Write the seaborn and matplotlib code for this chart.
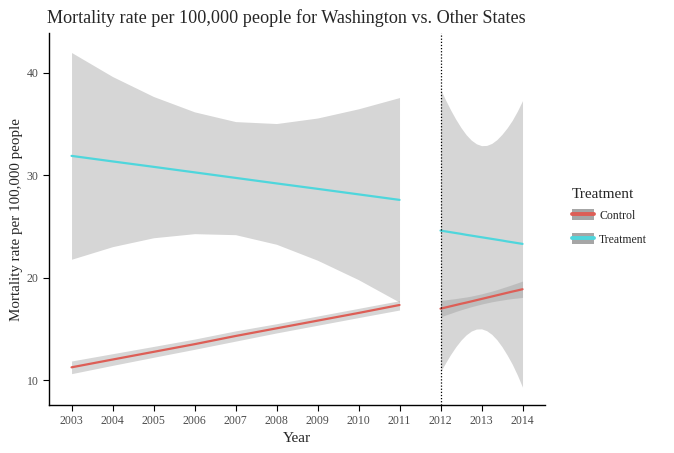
import numpy as np
import pandas as pd
import matplotlib
matplotlib.use("Agg")
import matplotlib.pyplot as plt
import seaborn as sns
from matplotlib.patches import Patch
from matplotlib.lines import Line2D
from matplotlib.legend_handler import HandlerTuple

# pre-policy period (annual)
pre_years = [2003, 2004, 2005, 2006, 2007, 2008, 2009, 2010, 2011]
pre_control = [11.24, 12.0, 12.75, 13.5, 14.3, 15.05, 15.8, 16.55, 17.33]
pre_control_lo = [10.62, 11.43, 12.22, 13.0, 13.8, 14.6, 15.35, 16.1, 16.84]
pre_control_hi = [11.86, 12.57, 13.28, 14.0, 14.8, 15.5, 16.25, 17.0, 17.75]
pre_treat = [31.9, 31.36, 30.83, 30.29, 29.75, 29.21, 28.68, 28.14, 27.6]
pre_treat_lo = [21.8, 23.03, 23.9, 24.3, 24.2, 23.26, 21.7, 19.8, 17.6]
pre_treat_hi = [42.0, 39.65, 37.7, 36.2, 35.25, 35.06, 35.6, 36.5, 37.6]

post_years = [2012, 2012.125, 2012.25, 2012.375, 2012.5, 2012.625, 2012.75, 2012.875,
              2013, 2013.125, 2013.25, 2013.375, 2013.5, 2013.625, 2013.75, 2013.875, 2014]
post_control = [16.97, 17.09, 17.21, 17.33, 17.45, 17.56, 17.68, 17.80,
                17.92, 18.04, 18.16, 18.28, 18.40, 18.52, 18.64, 18.75, 18.87]
post_control_lo = [16.17, 16.35, 16.52, 16.70, 16.86, 17.01, 17.16, 17.29,
                   17.42, 17.53, 17.64, 17.73, 17.81, 17.89, 17.96, 18.01, 18.07]
post_control_hi = [17.77, 17.83, 17.90, 17.96, 18.04, 18.11, 18.20, 18.31,
                   18.42, 18.55, 18.68, 18.83, 18.99, 19.15, 19.32, 19.49, 19.67]
post_treat = [24.6, 24.52, 24.44, 24.36, 24.28, 24.19, 24.11, 24.03,
              23.95, 23.87, 23.79, 23.71, 23.63, 23.54, 23.46, 23.38, 23.3]
post_treat_lo = [10.8, 11.69, 12.52, 13.26, 13.9, 14.41, 14.78, 14.98,
                 15.0, 14.82, 14.46, 13.93, 13.25, 12.44, 11.54, 10.48, 9.3]
post_treat_hi = [38.4, 37.35, 36.36, 35.46, 34.66, 33.97, 33.44, 33.08,
                 32.9, 32.92, 33.12, 33.49, 34.01, 34.64, 35.38, 36.28, 37.3]

policy_year = 2012
groups = ["Control", "Treatment"]
colors = {"Control": "#dd5e56", "Treatment": "#4fd6dc"}


def make_df(years, control, c_lo, c_hi, treat, t_lo, t_hi):
    a = pd.DataFrame({"Year": years, "Rate": control, "lo": c_lo, "hi": c_hi, "Treatment": "Control"})
    b = pd.DataFrame({"Year": years, "Rate": treat, "lo": t_lo, "hi": t_hi, "Treatment": "Treatment"})
    return pd.concat([a, b], ignore_index=True)


pre_df = make_df(pre_years, pre_control, pre_control_lo, pre_control_hi,
                 pre_treat, pre_treat_lo, pre_treat_hi)
post_df = make_df(post_years, post_control, post_control_lo, post_control_hi,
                  post_treat, post_treat_lo, post_treat_hi)

sns.set_style("ticks")
plt.rcParams["font.family"] = ["Liberation Serif", "DejaVu Serif"]

fig = plt.figure(figsize=(6.74, 4.53), dpi=100)
ax = fig.add_axes([0.0727, 0.106, 0.736, 0.821])

for df in [pre_df, post_df]:
    for g in groups:
        d = df[df["Treatment"] == g]
        ax.fill_between(d["Year"], d["lo"], d["hi"], color="#999999", alpha=0.4, lw=0)
    sns.lineplot(data=df, x="Year", y="Rate", hue="Treatment", palette=colors,
                 linewidth=1.6, legend=False, ax=ax)

ax.axvline(policy_year, color="black", linestyle=(0, (1, 1.5)), linewidth=0.9)

ax.set_xlim(2002.45, 2014.55)
ax.set_ylim(7.56, 43.9)
ax.set_xticks(range(2003, 2015))
ax.set_yticks([10, 20, 30, 40])
ax.tick_params(axis="both", labelsize=8.5, labelcolor="#4d4d4d", color="black",
               length=4, width=0.8, direction="out")
for s in ["top", "right"]:
    ax.spines[s].set_visible(False)
for s in ["left", "bottom"]:
    ax.spines[s].set_linewidth(1.0)
    ax.spines[s].set_color("black")

ax.set_xlabel("Year", fontsize=11, labelpad=3)
ax.set_ylabel("Mortality rate per 100,000 people", fontsize=10.8, labelpad=2.5)
fig.text(47 / 674, 1 - 18 / 453,
         "Mortality rate per 100,000 people for Washington vs. Other States",
         fontsize=13.1, ha="left", va="center")

handles = [(Patch(facecolor="#a6a6a6", edgecolor="none"),
            Line2D([], [], color=colors[g], linewidth=2.8)) for g in groups]
fig.text(572 / 674, 1 - 195 / 453, "Treatment", fontsize=11, ha="left", va="center")
fig.legend(handles, groups, loc="center left",
           bbox_to_anchor=(572 / 674, 1 - 227.5 / 453), frameon=False, fontsize=8.5,
           handler_map={tuple: HandlerTuple(ndivide=1, pad=0)},
           handlelength=1.9, handleheight=1.0, labelspacing=1.0,
           handletextpad=0.4, borderpad=0, borderaxespad=0)

fig.savefig("out.png", dpi=100)
plt.close(fig)
